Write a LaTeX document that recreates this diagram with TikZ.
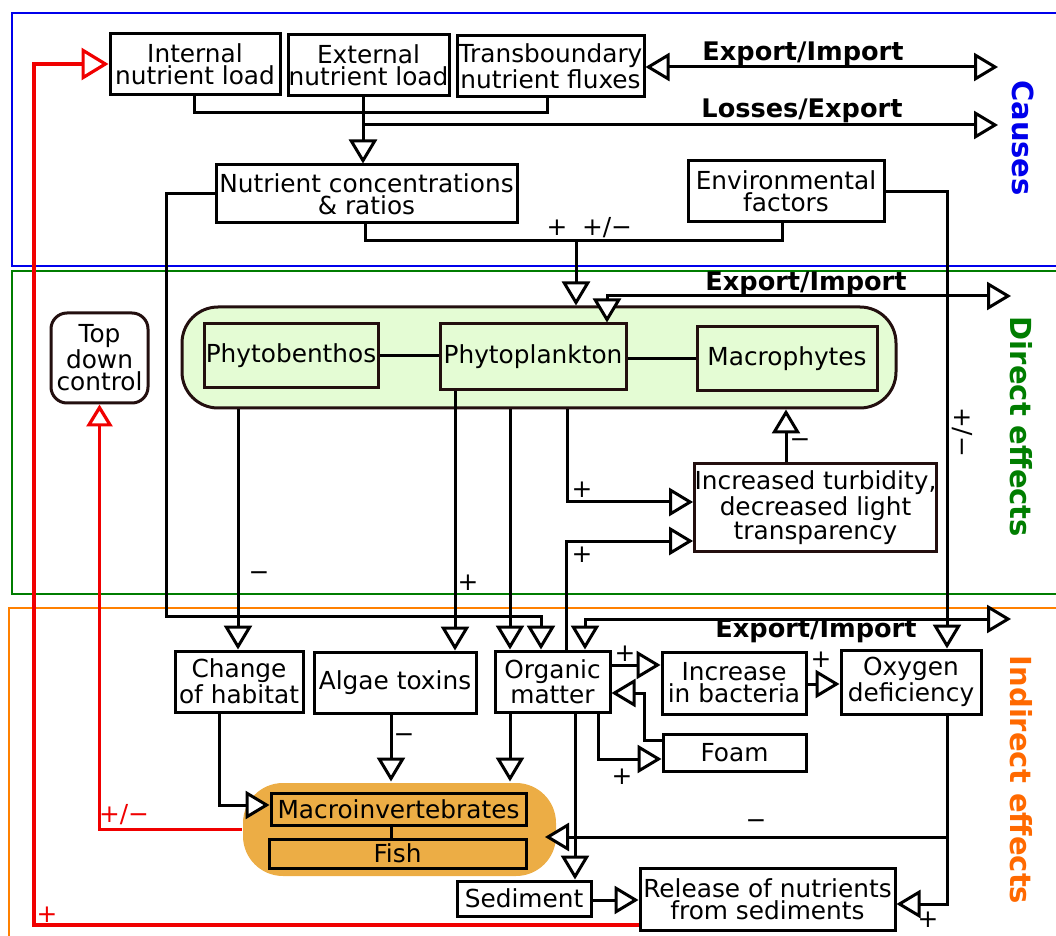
\documentclass[tikz,border=0pt]{standalone}
\usepackage{fontspec}
\setmainfont{DejaVu Sans}
\usetikzlibrary{arrows.meta}
\definecolor{fblue}{RGB}{0,0,235}
\definecolor{fgreen}{RGB}{0,125,0}
\definecolor{forange}{RGB}{255,128,0}
\definecolor{torange}{RGB}{255,105,0}
\definecolor{lgreen}{RGB}{228,252,212}
\definecolor{ogfill}{RGB}{236,173,69}
\definecolor{dkb}{RGB}{35,15,15}
\definecolor{myred}{RGB}{240,0,0}
\newcommand\boxfont{\fontsize{12.4pt}{11pt}\selectfont}
\newcommand\mkbox[7][]{%
  \pgfmathsetmacro\bcx{(#3+#5)/2}%
  \pgfmathsetmacro\bcy{(#4+#6)/2}%
  \pgfmathsetmacro\bwd{(#5-#3)/2}%
  \pgfmathsetmacro\bht{(#6-#4)/2}%
  \node[boxst,minimum width=\bwd pt,minimum height=\bht pt,#1] (#2) at (\bcx,\bcy) {#7};}
\begin{document}
\begin{tikzpicture}[x=0.5pt,y=-0.5pt,line width=1.5pt,
  boxst/.style={draw=black,fill=white,inner sep=0pt,align=center,font=\boxfont,line width=1.5pt},
  tri/.style={-{Triangle[length=12pt,width=14pt,fill=white]}},
  tritri/.style={{Triangle[length=12pt,width=14pt,fill=white]}-{Triangle[length=12pt,width=14pt,fill=white]}},
  redtri/.style={draw=myred,line width=1.6pt,-{Triangle[length=11pt,width=13pt,fill=white]}},
  redbig/.style={draw=myred,line width=1.6pt,-{Triangle[length=13.5pt,width=16pt,fill=white]}},
  lbl/.style={font=\boxfont,inner sep=0pt},
  blbl/.style={font=\fontsize{12.8pt}{13pt}\selectfont\bfseries,inner sep=0pt},
  sect/.style={font=\fontsize{14.5pt}{15pt}\selectfont\bfseries,inner sep=0pt,rotate=-90}]
\useasboundingbox (0,0) rectangle (1056,936);
\clip (0,0) rectangle (1056,936);
% section frames
\draw[fblue,line width=1.4pt] (12,13) rectangle (1075,266);
\draw[fgreen,line width=1.4pt] (12,271) rectangle (1075,594);
\draw[forange,line width=1.4pt] (9,608) rectangle (1075,960);
\node[sect,text=fblue] (causes) at (1023,138) {Causes};
\node[sect,text=fgreen] (direct) at (1021,427) {Direct effects};
\node[sect,text=torange] (indirect) at (1021,780) {Indirect effects};
% causes boxes
\mkbox{int}{110}{34}{280}{95}{Internal\\nutrient load}
\mkbox{ext}{288}{35}{449}{96}{External\\nutrient load}
\mkbox{trans}{457}{36}{644}{97}{Transboundary\\nutrient fluxes}
\mkbox{nc}{216}{165}{517}{223}{Nutrient concentrations\\\& ratios}
\mkbox{env}{688}{161}{884}{222}{Environmental\\factors}
% direct effects
\mkbox[rounded corners=8pt,draw=dkb]{tdc}{51}{313}{148}{403}{Top\\down\\control}
\mkbox[rounded corners=18pt,draw=dkb,fill=lgreen]{phg}{182}{307}{896}{408}{}
\mkbox[draw=dkb,fill=lgreen]{pben}{204}{324}{378}{388}{Phytobenthos}
\mkbox[draw=dkb,fill=lgreen]{ppl}{440}{324}{626}{390}{Phytoplankton}
\mkbox[draw=dkb,fill=lgreen]{mac}{697}{327}{877}{391}{Macrophytes}
\mkbox[draw=dkb]{turb}{695}{464}{936}{551}{Increased turbidity,\\decreased light\\transparency}
% indirect effects
\mkbox{hab}{175}{651}{303}{712}{Change\\of habitat}
\mkbox{alg}{314}{652}{476}{713}{Algae toxins}
\mkbox{org}{495}{651}{610}{712}{Organic\\matter}
\mkbox{bac}{662}{652}{806}{714}{Increase\\in bacteria}
\mkbox{oxy}{841}{650}{981}{714}{Oxygen\\deficiency}
\mkbox{foam}{663}{734}{806}{771}{Foam}
\mkbox[draw=none,fill=ogfill,rounded corners=20pt]{og}{243}{783}{556}{876}{}
\mkbox[fill=ogfill]{macinv}{271}{793}{526}{825}{Macroinvertebrates}
\mkbox[fill=ogfill]{fish}{269}{839}{526}{868}{Fish}
\mkbox{sed}{457}{881}{591}{916}{Sediment}
\mkbox{rel}{640}{868}{895}{930}{Release of nutrients\\from sediments}
% causes connectors
\draw (int.south -| 194,0) |- (547,113) -- (trans.south -| 547,0);
\draw[tri] (ext.south -| 363,0) -- (nc.north -| 363,0);
\coordinate (lossA) at (363,125);
\coordinate (lossB) at (998,125);
\draw[tri] (lossA) -- (lossB);
\node[blbl] (losslbl) at (802,111) {Losses/Export};
\coordinate (exA) at (998,67);
\draw[tritri] (trans.east |- exA) -- (exA);
\node[blbl] (exlbl1) at (803,54) {Export/Import};
\draw (nc.south -| 365,0) -- (365,241) -- (782,241) -- (env.south -| 782,0);
\draw[tri] (576,241) -- (phg.north -| 576,0);
\node[lbl] at (557,228) {+};
\node[lbl] at (607,228) {+/−};
\draw[tri] (nc.west) -| (166,616) -| (org.north -| 541,0);
\draw[tri] (env.east) -| (oxy.north -| 947,0);
\node[lbl,rotate=-90] at (962,432) {+/−};
% direct connectors
\coordinate (exB) at (1011,296);
\draw[tritri] (ppl.north -| 607,0) |- (exB);
\node[blbl] (exlbl2) at (806,284) {Export/Import};
\draw (pben.east) -- (pben.east -| ppl.west);
\draw (mac.west) -- (mac.west -| ppl.east);
\draw[tri] (phg.south -| 238,0) -- (hab.north -| 238,0);
\node[lbl] at (259,576) {−};
\draw[tri] (ppl.south -| 455,0) -- (alg.north -| 455,0);
\node[lbl] at (468,583) {+};
\draw[tri] (phg.south -| 510,0) -- (org.north -| 510,0);
\draw[tri] (phg.south -| 567,0) |- (turb.west |- 0,502);
\node[lbl] at (582,490) {+};
\draw[tri] (org.north -| 566,0) |- (turb.west |- 0,541);
\node[lbl] at (582,555) {+};
\draw[tri] (turb.north -| 786,0) -- (phg.south -| 786,0);
\node[lbl] at (800,443) {−};
% indirect connectors
\coordinate (exC) at (1011,619);
\draw[tritri] (org.north -| 585,0) |- (exC);
\node[blbl] (exlbl3) at (816,631) {Export/Import};
\draw[tri] (org.east |- 0,665) -- (bac.west |- 0,665);
\node[lbl] at (625,654) {+};
\draw[tri] (bac.east |- 0,684) -- (oxy.west |- 0,684);
\node[lbl] at (821,660) {+};
\draw[tri] (foam.west |- 0,740) -| (644,693) -- (org.east |- 0,693);
\draw[tri] (org.south -| 598,0) |- (foam.west |- 0,759);
\node[lbl] at (622,777) {+};
\draw[tri] (org.south -| 575,0) -- (sed.north -| 575,0);
\draw[tri] (org.south -| 510,0) -- (og.north -| 510,0);
\draw[tri] (alg.south -| 391,0) -- (og.north -| 391,0);
\node[lbl] at (404,738) {−};
\draw[tri] (hab.south -| 219,0) |- (macinv.west |- 0,805);
\draw[tri] (oxy.south -| 947,0) |- (rel.east |- 0,904);
\node[lbl] at (928,920) {+};
\coordinate (ogE) at (545,837);
\draw[tri] (947,837) -- (ogE);
\node[lbl] at (756,824) {−};
\draw (macinv.south -| 391,0) -- (fish.north -| 391,0);
\draw[tri] (sed.east |- 0,900) -- (rel.west |- 0,900);
% red feedbacks
\draw[redtri] (og.west) -| (tdc.south);
\node[lbl,text=myred] at (124,815) {+/−};
\draw[redbig] (rel.west |- 0,925) -| (34,64) -- (int.west |- 0,64);
\node[lbl,text=myred] at (47,915) {+};
\end{tikzpicture}
\end{document}
